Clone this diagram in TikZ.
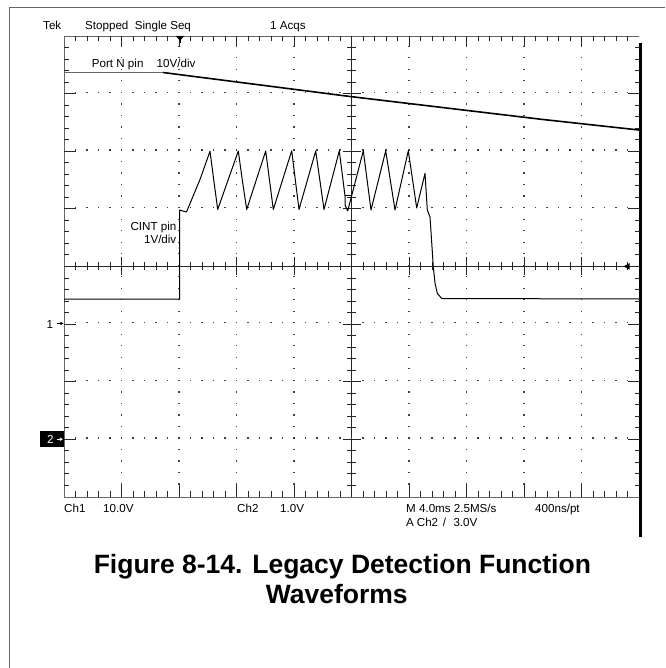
\documentclass[tikz,border=0pt]{standalone}
\usepackage{fontspec}
\setmainfont{Liberation Sans}
\begin{document}
\begin{tikzpicture}[x=1pt,y=-1pt,
  lbl/.style={inner sep=0pt, anchor=base west, font=\fontsize{11.6}{13}\selectfont},
  border/.style={draw=black!60, line width=0.8pt},
  tick/.style={draw=black!85, line width=0.8pt},
  dotc/.style={fill=black!75},
  trace/.style={draw=black, line width=1pt, line join=round},
  ttl/.style={inner sep=0pt, anchor=base, font=\fontsize{26.5}{30}\selectfont\bfseries},
]
\useasboundingbox (0,0) rectangle (665,668);
\fill[white] (0,0) rectangle (665,668);
% outer frame
\draw[black!60, line width=0.9pt] (9,668) -- (9,7) -- (665,7);
% graticule border
\draw[border] (639,36) -- (64,36) -- (64,497) -- (639,497);
\draw[black, line width=3pt] (640.8,43) -- (640.8,537);
% center axes
\draw[tick] (64,266.4) -- (639,266.4);
\draw[tick] (351.5,36) -- (351.5,497);
% horizontal ticks
\foreach \k in {1,...,49}{
  \pgfmathsetmacro\xx{64+11.5*\k}
  \pgfmathtruncatemacro\rem{mod(\k,5)}
  \ifnum\rem=0
    \draw[tick] (\xx,36) -- (\xx,46);
    \draw[tick] (\xx,497) -- (\xx,485);
    \draw[tick] (\xx,257.4) -- (\xx,275.4);
  \else
    \draw[tick] (\xx,36) -- (\xx,41);
    \draw[tick] (\xx,497) -- (\xx,491);
    \draw[tick] (\xx,262.4) -- (\xx,270.4);
  \fi
}
% vertical ticks
\foreach \j in {1,...,39}{
  \pgfmathsetmacro\yy{36+11.52*\j}
  \pgfmathtruncatemacro\rem{mod(\j,5)}
  \ifnum\rem=0
    \draw[tick] (64,\yy) -- (76,\yy);
    \draw[tick] (639.5,\yy) -- (628,\yy);
    \draw[tick] (342.5,\yy) -- (360.5,\yy);
  \else
    \draw[tick] (64,\yy) -- (69,\yy);
    \draw[tick] (639.5,\yy) -- (635,\yy);
    \draw[tick] (347,\yy) -- (356,\yy);
  \fi
}
% grid dots
\foreach \j in {1,2,3,5,6,7}{
  \foreach \k in {1,...,49}{
    \fill[dotc] ({64+11.5*\k-0.6},{36+57.6*\j-0.6}) rectangle ++(1.2,-1.2);
  }
}
\foreach \i in {1,2,3,4,6,7,8,9}{
  \foreach \j in {1,...,39}{
    \fill[dotc] ({64+57.5*\i-0.6},{36+11.52*\j-0.6}) rectangle ++(1.2,-1.2);
  }
}
% trigger markers
\fill[black] (176,36) -- (184,36) -- (180,41) -- cycle;
\draw[black, line width=0.8pt] (180,40) -- (180,43);
\fill[black] (623.5,266.4) -- (629.5,263.2) -- (629.5,269.6) -- cycle;
% channel markers
\node[lbl] (m1) at (46.5,328) {1};
\draw[black, line width=0.8pt] (56.5,323.4) -- (61,323.4);
\fill[black] (63.5,323.4) -- (60.3,321.6) -- (60.3,325.2) -- cycle;
\fill[black] (40,430.5) rectangle (63.5,446.5);
\node[lbl, text=white] (m2) at (46.8,443.8) {2};
\draw[white, line width=0.8pt] (56.5,439.2) -- (60.5,439.2);
\fill[white] (63,439.2) -- (59.8,437.4) -- (59.8,441) -- cycle;
% header
\node[lbl] (tek) at (43,29.5) {Tek};
\node[lbl] (stopped) at (85,29.5) {Stopped\ \ Single Seq};
\node[lbl] (acqs) at (270,29.5) {1 Acqs};
% channel labels
\node[lbl] (portn) at (91.7,67.5) {Port N pin};
\node[lbl] (portdiv) at (156.5,67.5) {10V/div};
\node[lbl, anchor=base east] (cint) at (176.5,230.5) {CINT pin};
\node[lbl, anchor=base east] (cintdiv) at (176.5,243) {1V/div};
% Port N trace
\draw[black!60, line width=0.9pt] (64,72.5) -- (163,72.5);
\draw[black, line width=1.6pt, line join=round] (163,72.5) -- (350,96.5) -- (543,119.5) -- (639,130);
% CINT trace
\draw[trace] (64,299) -- (179.5,299) -- (179.5,210) -- (186.5,212) -- (200,179.5) -- (210,151.3)
  -- (213.5,178) -- (217.7,209.5) -- (238.3,151) -- (242,178) -- (246.7,209.5)
  -- (265.7,151) -- (273.3,209.5) -- (291.7,150.8) -- (299,209.5) -- (315.7,151)
  -- (324,209.5) -- (339.3,150.8) -- (345,196) -- (345,205) -- (347.7,211)
  -- (363.3,150.8) -- (371,210) -- (385.7,150.8) -- (395,210) -- (408.3,150.8)
  -- (416.7,208) -- (425,173.3) -- (427.3,210) -- (430,217) -- (433.3,266.7)
  -- (435,283) -- (437.3,293.3) -- (441.7,298.5) -- (639,299);
\draw[trace] (345,196) -- (351,196);
% bottom readouts
\node[lbl] (ch1) at (64,512.3) {Ch1};
\node[lbl] (ch1v) at (103,512.3) {10.0V};
\node[lbl] (ch2) at (237,512.3) {Ch2};
\node[lbl] (ch2v) at (280,512.3) {1.0V};
\node[lbl] (mtime) at (406,512.3) {M 4.0ms 2.5MS/s};
\node[lbl] (nspt) at (535,512.3) {400ns/pt};
\node[lbl] (trA) at (406,526.7) {A};
\node[lbl] (trCh) at (416.7,526.7) {Ch2};
\node[lbl] (trSl) at (442.7,526.7) {/};
\node[lbl] (trV) at (453.3,526.7) {3.0V};
% title
\node[ttl] (title1) at (342.4,573.5) {Figure 8-14. Legacy Detection Function};
\node[ttl] (title2) at (336.7,603.5) {Waveforms};
\end{tikzpicture}
\end{document}
